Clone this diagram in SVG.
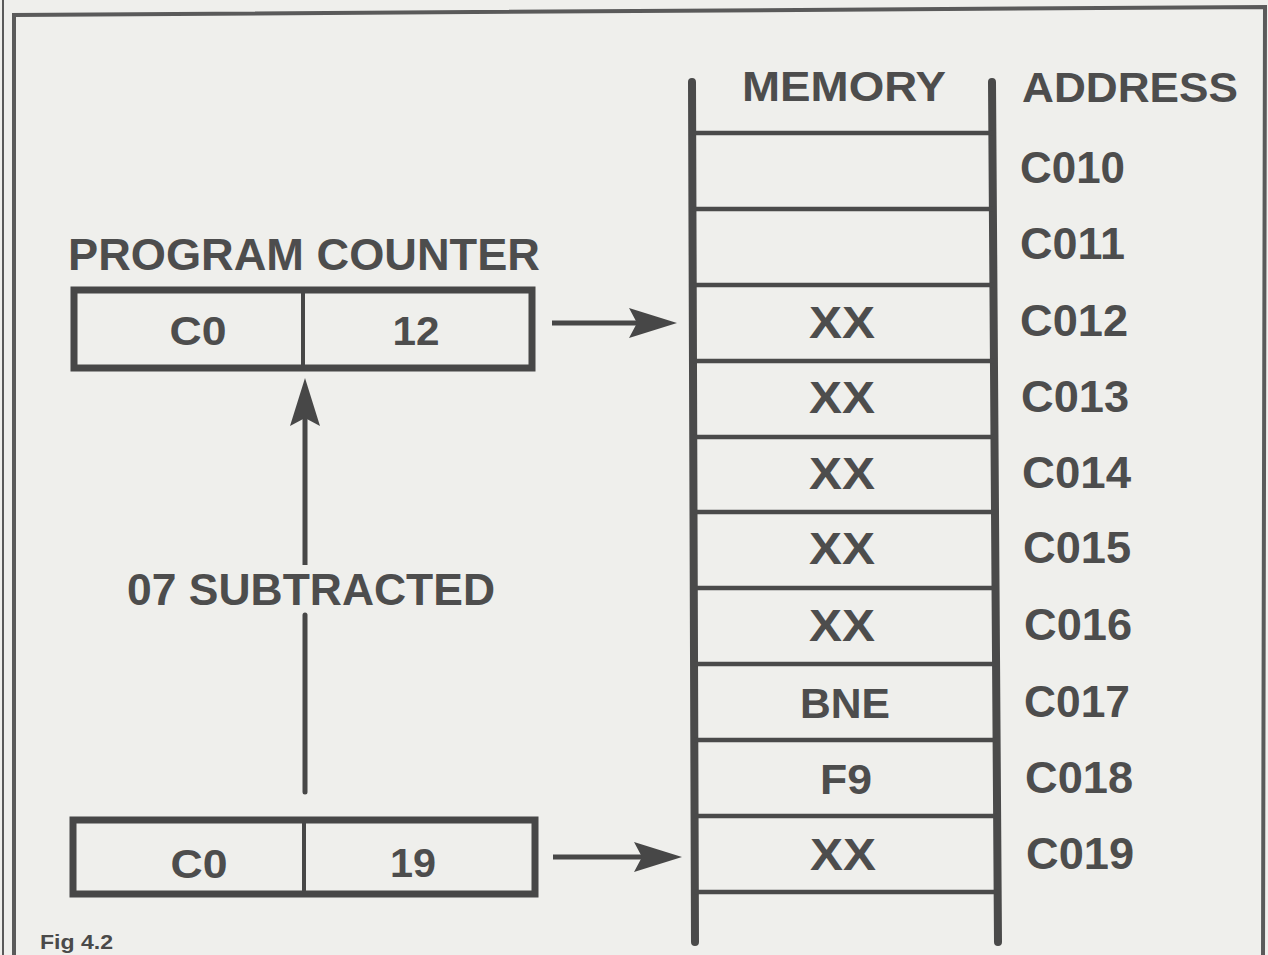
<svg xmlns="http://www.w3.org/2000/svg" width="1268" height="955" viewBox="0 0 1268 955">
<style>
.t{font-family:"Liberation Sans",Arial,sans-serif;font-weight:bold;fill:#4d4d4d;}
.box{fill:none;stroke:#474747;stroke-width:7;}
.div{stroke:#474747;stroke-width:4;}
.rail{stroke:#4a4a4a;stroke-width:8;stroke-linecap:round;}
.rung{stroke:#4a4a4a;stroke-width:4.5;}
.shaft{stroke:#474747;stroke-width:5;fill:none;}
.frame{fill:none;stroke:#5a5a5a;}
</style>
<defs>
<marker id="ah" markerUnits="userSpaceOnUse" viewBox="0 0 48 30" refX="8" refY="15" markerWidth="48" markerHeight="30" orient="auto">
<path d="M0,0 L48,15 L0,30 L8,15 Z" fill="#474747"/>
</marker>
</defs>
<rect x="0" y="0" width="1268" height="955" fill="#efefec"/>
<g id="frame">
<line class="frame" x1="3" y1="0" x2="3" y2="955" stroke-width="2"/>
<polyline class="frame" points="14,955 14,15 1265,7 1263,955" stroke-width="4"/>
</g>
<g id="memory">
<line class="rail" x1="692" y1="82" x2="695" y2="942"/>
<line class="rail" x1="992" y1="82" x2="998" y2="942"/>
<line class="rung" x1="692" y1="133" x2="993" y2="133"/>
<line class="rung" x1="692" y1="209" x2="993" y2="209"/>
<line class="rung" x1="693" y1="285" x2="993" y2="285"/>
<line class="rung" x1="693" y1="361" x2="994" y2="361"/>
<line class="rung" x1="693" y1="437" x2="994" y2="437"/>
<line class="rung" x1="694" y1="512" x2="995" y2="512"/>
<line class="rung" x1="694" y1="588" x2="995" y2="588"/>
<line class="rung" x1="694" y1="664" x2="996" y2="664"/>
<line class="rung" x1="694" y1="740" x2="997" y2="740"/>
<line class="rung" x1="695" y1="816" x2="997" y2="816"/>
<line class="rung" x1="695" y1="892" x2="998" y2="892"/>
<text class="t" x="844" y="101" font-size="42" text-anchor="middle" textLength="204" lengthAdjust="spacingAndGlyphs">MEMORY</text>
<text class="t" x="842" y="338" font-size="44" text-anchor="middle" textLength="66" lengthAdjust="spacingAndGlyphs">XX</text>
<text class="t" x="842" y="413" font-size="44" text-anchor="middle" textLength="66" lengthAdjust="spacingAndGlyphs">XX</text>
<text class="t" x="842" y="489" font-size="44" text-anchor="middle" textLength="66" lengthAdjust="spacingAndGlyphs">XX</text>
<text class="t" x="842" y="564" font-size="44" text-anchor="middle" textLength="66" lengthAdjust="spacingAndGlyphs">XX</text>
<text class="t" x="842" y="641" font-size="44" text-anchor="middle" textLength="66" lengthAdjust="spacingAndGlyphs">XX</text>
<text class="t" x="845" y="718" font-size="43" text-anchor="middle" textLength="90" lengthAdjust="spacingAndGlyphs">BNE</text>
<text class="t" x="846" y="794" font-size="43" text-anchor="middle" textLength="52" lengthAdjust="spacingAndGlyphs">F9</text>
<text class="t" x="843" y="870" font-size="44" text-anchor="middle" textLength="66" lengthAdjust="spacingAndGlyphs">XX</text>
</g>
<g id="address">
<text class="t" x="1022" y="102" font-size="42" textLength="216" lengthAdjust="spacingAndGlyphs">ADDRESS</text>
<text class="t" x="1020" y="183" font-size="45" textLength="105" lengthAdjust="spacingAndGlyphs">C010</text>
<text class="t" x="1020" y="259" font-size="45" textLength="105" lengthAdjust="spacingAndGlyphs">C011</text>
<text class="t" x="1020" y="336" font-size="45" textLength="108" lengthAdjust="spacingAndGlyphs">C012</text>
<text class="t" x="1021" y="412" font-size="45" textLength="108" lengthAdjust="spacingAndGlyphs">C013</text>
<text class="t" x="1022" y="488" font-size="45" textLength="109" lengthAdjust="spacingAndGlyphs">C014</text>
<text class="t" x="1023" y="563" font-size="45" textLength="108" lengthAdjust="spacingAndGlyphs">C015</text>
<text class="t" x="1024" y="640" font-size="45" textLength="108" lengthAdjust="spacingAndGlyphs">C016</text>
<text class="t" x="1024" y="717" font-size="45" textLength="106" lengthAdjust="spacingAndGlyphs">C017</text>
<text class="t" x="1025" y="793" font-size="45" textLength="108" lengthAdjust="spacingAndGlyphs">C018</text>
<text class="t" x="1026" y="869" font-size="45" textLength="108" lengthAdjust="spacingAndGlyphs">C019</text>
</g>
<g id="program-counter">
<text class="t" x="68" y="270" font-size="45" textLength="472" lengthAdjust="spacingAndGlyphs">PROGRAM COUNTER</text>
<rect class="box" x="74" y="290" width="458" height="78"/>
<line class="div" x1="303" y1="290" x2="303" y2="368"/>
<text class="t" x="198" y="345" font-size="40" text-anchor="middle" textLength="57" lengthAdjust="spacingAndGlyphs">C0</text>
<text class="t" x="416" y="345" font-size="40" text-anchor="middle" textLength="47" lengthAdjust="spacingAndGlyphs">12</text>
</g>
<g id="old-counter">
<rect class="box" x="73" y="820" width="462" height="74"/>
<line class="div" x1="304" y1="820" x2="304" y2="894"/>
<text class="t" x="199" y="878" font-size="40" text-anchor="middle" textLength="57" lengthAdjust="spacingAndGlyphs">C0</text>
<text class="t" x="413" y="877" font-size="40" text-anchor="middle" textLength="46" lengthAdjust="spacingAndGlyphs">19</text>
</g>
<g id="label-subtracted">
<text class="t" x="127" y="605" font-size="44" textLength="368" lengthAdjust="spacingAndGlyphs">07 SUBTRACTED</text>
</g>
<g id="connectors">
<line class="shaft" x1="552" y1="323" x2="637" y2="323" marker-end="url(#ah)"/>
<line class="shaft" x1="553" y1="857" x2="642" y2="857" marker-end="url(#ah)"/>
<line class="shaft" x1="305" y1="792" x2="305" y2="615" stroke-width="7" stroke-linecap="round"/>
<line class="shaft" x1="305" y1="565" x2="305" y2="418" stroke-width="7" marker-end="url(#ah)"/>
</g>
<text x="40" y="949" font-size="20" font-family="Liberation Sans, Arial, sans-serif" font-weight="bold" fill="#4a4a4a" textLength="73" lengthAdjust="spacingAndGlyphs">Fig 4.2</text>
</svg>
